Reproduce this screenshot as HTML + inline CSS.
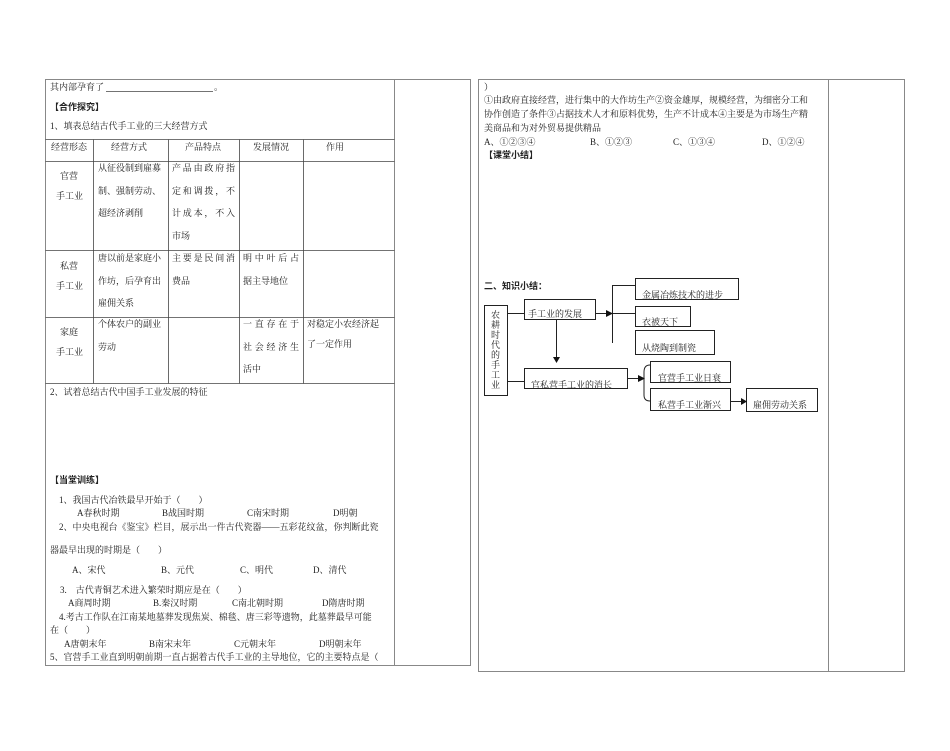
<!DOCTYPE html>
<html><head><meta charset="utf-8"><style>
html,body{margin:0;padding:0;background:#fff;}
svg{display:block;}
text{font-family:"Liberation Serif","Noto Serif CJK SC",serif;font-size:9px;fill:#222;}
.b{font-family:"Liberation Sans","Noto Sans CJK SC",sans-serif;font-weight:bold;}
.s{font-size:8.5px;}
</style></head><body>
<svg width="950" height="751" viewBox="0 0 950 751" xmlns="http://www.w3.org/2000/svg">
<g fill="none" stroke="#888" stroke-width="1">
<rect x="45.5" y="79.5" width="425" height="586"/>
<line x1="394.5" y1="79.5" x2="394.5" y2="665.5"/>
<rect x="478.5" y="79.5" width="426" height="592"/>
<line x1="828.5" y1="79.5" x2="828.5" y2="671.5"/>
</g>
<g fill="none" stroke="#444" stroke-width="0.8">
<line x1="45.5" y1="139.5" x2="394.5" y2="139.5"/>
<line x1="45.5" y1="161.5" x2="394.5" y2="161.5"/>
<line x1="45.5" y1="250.5" x2="394.5" y2="250.5"/>
<line x1="45.5" y1="317.5" x2="394.5" y2="317.5"/>
<line x1="45.5" y1="383.5" x2="394.5" y2="383.5"/>
<line x1="93.5" y1="139.5" x2="93.5" y2="383.5"/>
<line x1="168.5" y1="139.5" x2="168.5" y2="383.5"/>
<line x1="239.5" y1="139.5" x2="239.5" y2="383.5"/>
<line x1="303.5" y1="139.5" x2="303.5" y2="383.5"/>
<line x1="106" y1="91.5" x2="213" y2="91.5"/>
</g>
<text x="50" y="90">其内部孕育了</text><text x="214" y="90">。</text>
<text x="50" y="110" class="b">【合作探究】</text>
<text x="50" y="129">1、填表总结古代手工业的三大经营方式</text>
<text x="51" y="150">经营形态</text><text x="111" y="150">经营方式</text><text x="185" y="150">产品特点</text><text x="253" y="150">发展情况</text><text x="326" y="150">作用</text>
<text x="60" y="179">官营</text><text x="56" y="199">手工业</text>
<text x="98" y="171">从征役制到雇募</text><text x="98" y="194">制、强制劳动、</text><text x="98" y="216">超经济剥削</text>
<text x="172" y="171" textLength="63">产品由政府指</text><text x="172" y="194" textLength="63">定和调拨，不</text><text x="172" y="216" textLength="63">计成本，不入</text><text x="172" y="239">市场</text>
<text x="60" y="269">私营</text><text x="56" y="289">手工业</text>
<text x="98" y="261">唐以前是家庭小</text><text x="98" y="284">作坊，后孕育出</text><text x="98" y="306">雇佣关系</text>
<text x="172" y="261" textLength="63">主要是民间消</text><text x="172" y="284">费品</text>
<text x="243" y="261" textLength="56">明中叶后占</text><text x="243" y="284">据主导地位</text>
<text x="60" y="335">家庭</text><text x="56" y="355">手工业</text>
<text x="98" y="327">个体农户的副业</text><text x="98" y="350">劳动</text>
<text x="243" y="327" textLength="56">一直存在于</text><text x="243" y="350" textLength="56">社会经济生</text><text x="243" y="372">活中</text>
<text x="307" y="327">对稳定小农经济起</text><text x="307" y="347">了一定作用</text>
<text x="50" y="395">2、试着总结古代中国手工业发展的特征</text>
<text x="50" y="483" class="b">【当堂训练】</text>
<text x="59" y="503">1、我国古代冶铁最早开始于（　　）</text>
<text x="77" y="516">A春秋时期</text><text x="162" y="516">B战国时期</text><text x="247" y="516">C南宋时期</text><text x="333" y="516">D明朝</text>
<text x="59" y="530">2、中央电视台《鉴宝》栏目，展示出一件古代瓷器——五彩花纹盆，你判断此瓷</text>
<text x="50" y="553">器最早出现的时期是（　　）</text>
<text x="72" y="573">A、宋代</text><text x="161" y="573">B、元代</text><text x="240" y="573">C、明代</text><text x="313" y="573">D、清代</text>
<text x="60" y="593">3.　古代青铜艺术进入繁荣时期应是在（　　）</text>
<text x="68" y="606">A商周时期</text><text x="153" y="606">B.秦汉时期</text><text x="232" y="606">C南北朝时期</text><text x="322" y="606">D隋唐时期</text>
<text x="59" y="620">4.考古工作队在江南某地墓葬发现焦炭、棉毯、唐三彩等遗物，此墓葬最早可能</text>
<text x="50" y="633">在（　　）</text>
<text x="64" y="647">A唐朝末年</text><text x="149" y="647">B南宋末年</text><text x="234" y="647">C元朝末年</text><text x="319" y="647">D明朝末年</text>
<text x="50" y="660">5、官营手工业直到明朝前期一直占据着古代手工业的主导地位，它的主要特点是（</text>
<text x="484" y="90">）</text>
<text x="484" y="103">①由政府直接经营，进行集中的大作坊生产②资金雄厚，规模经营，为细密分工和</text>
<text x="484" y="117">协作创造了条件③占据技术人才和原料优势，生产不计成本④主要是为市场生产精</text>
<text x="484" y="131">美商品和为对外贸易提供精品</text>
<text x="484" y="145">A、①②③④</text><text x="590" y="145">B、①②③</text><text x="673" y="145">C、①③④</text><text x="762" y="145">D、①②④</text>
<text x="484" y="158" class="b">【课堂小结】</text>
<text x="484" y="289" class="b">二、知识小结：</text>
<g fill="none" stroke="#222" stroke-width="1">
<rect x="484.5" y="305.5" width="23" height="90"/>
<rect x="524.5" y="299.5" width="71" height="20"/>
<rect x="635.5" y="278.5" width="103" height="21"/>
<rect x="635.5" y="306.5" width="55" height="20"/>
<rect x="635.5" y="330.5" width="79" height="24"/>
<rect x="524.5" y="368.5" width="103" height="20"/>
<rect x="650.5" y="361.5" width="80" height="21"/>
<rect x="650.5" y="388.5" width="80" height="22"/>
<rect x="746.5" y="388.5" width="71" height="23"/>
<line x1="508" y1="313.5" x2="524" y2="313.5"/>
<line x1="596" y1="313.5" x2="606" y2="313.5"/>
<line x1="612.5" y1="285" x2="612.5" y2="343"/>
<line x1="612" y1="285.5" x2="635" y2="285.5"/>
<line x1="612" y1="313.5" x2="635" y2="313.5"/>
<line x1="556.5" y1="320" x2="556.5" y2="357"/>
<line x1="508" y1="381.5" x2="524" y2="381.5"/>
<line x1="628" y1="378.5" x2="638" y2="378.5"/>
<path d="M650 365 Q644 365 644 372 L644 395 Q644 401 650 401"/>
<line x1="731" y1="401.5" x2="741" y2="401.5"/>
</g>
<g fill="#111">
<path d="M606 310 L613 313.5 L606 317Z"/>
<path d="M553 357 L556.5 363 L560 357Z"/>
<path d="M638 375 L645 378.5 L638 382Z"/>
<path d="M741 398 L747 401.5 L741 405Z"/>
</g>
<text x="528" y="317">手工业的发展</text>
<text x="642" y="298">金属冶炼技术的进步</text>
<text x="642" y="325">衣被天下</text>
<text x="642" y="351">从烧陶到制瓷</text>
<text x="531" y="388">官私营手工业的消长</text>
<text x="658" y="381">官营手工业日衰</text>
<text x="658" y="408">私营手工业渐兴</text>
<text x="753" y="408">雇佣劳动关系</text>
<g>
<text x="491" y="318">农</text><text x="491" y="328">耕</text><text x="491" y="338">时</text><text x="491" y="348">代</text><text x="491" y="358">的</text><text x="491" y="368">手</text><text x="491" y="378">工</text><text x="491" y="388">业</text>
</g>
</svg>
</body></html>
